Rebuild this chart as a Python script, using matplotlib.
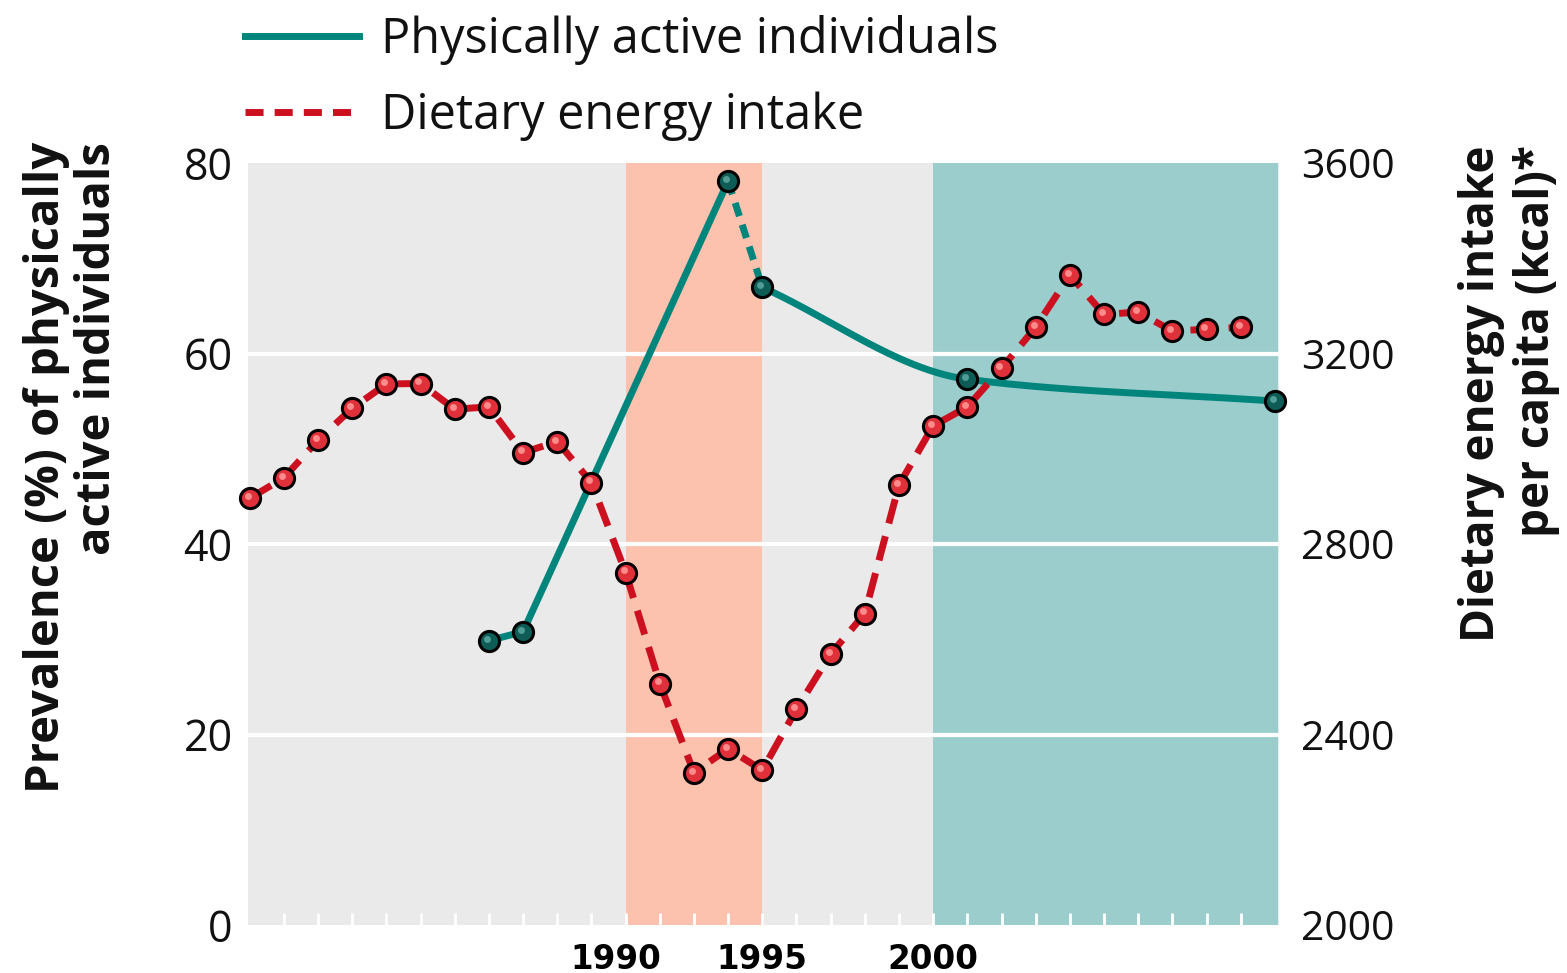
import numpy as np
import matplotlib
matplotlib.use("Agg")
import matplotlib.pyplot as plt
from matplotlib.lines import Line2D
from matplotlib.transforms import ScaledTranslation
from matplotlib import font_manager as fm

# ---------------- data ----------------
energy_years = list(range(1980, 2010))
energy_kcal = [2896, 2939, 3018, 3085, 3136, 3137, 3083, 3088, 2992, 3015,
               2929, 2740, 2507, 2320, 2370, 2325, 2453, 2569, 2654, 2924,
               3048, 3088, 3169, 3255, 3365, 3282, 3287, 3247, 3251, 3255]

active_years = [1987, 1988, 1994, 1995, 2001, 2010]
active_pct = [29.85, 30.8, 78.1, 66.95, 57.3, 55.0]

crisis_period = (1991, 1995)
recent_period = (2000, 2010.1)
xtick_years = [1990, 1995, 2000]
xtick_labels = ["1990", "1995", "2000"]
left_ticks = [0, 20, 40, 60, 80]
right_ticks = [2000, 2400, 2800, 3200, 3600]
legend_labels = ["Physically active individuals", "Dietary energy intake"]
left_label = "Prevalence (%) of physically\nactive individuals"
right_label = "Dietary energy intake\nper capita (kcal)*"

# ---------------- style ----------------
names = {f.name for f in fm.fontManager.ttflist}
COND = "Open Sans" if "Open Sans" in names else "DejaVu Sans"

TEAL = "#00857c"
TEAL_DARK = "#0e5c56"
RED = "#cc1020"
RED_FILL = "#e0303a"
GRAY_BG = "#eaeaea"
ORANGE = "#fcc2ae"
TEAL_BAND = "#9ccdcd"


def pchip(x, y, xs):
    x = np.asarray(x, float); y = np.asarray(y, float)
    h = np.diff(x); d = np.diff(y) / h
    n = len(x)
    m = np.zeros(n)
    for k in range(1, n - 1):
        if d[k - 1] * d[k] > 0:
            w1 = 2 * h[k] + h[k - 1]; w2 = h[k] + 2 * h[k - 1]
            m[k] = (w1 + w2) / (w1 / d[k - 1] + w2 / d[k])
    m[0] = d[0]; m[-1] = d[-1]
    out = np.empty_like(xs)
    for i, xv in enumerate(xs):
        k = min(max(np.searchsorted(x, xv) - 1, 0), n - 2)
        t = (xv - x[k]) / h[k]
        h00 = 2 * t**3 - 3 * t**2 + 1; h10 = t**3 - 2 * t**2 + t
        h01 = -2 * t**3 + 3 * t**2; h11 = t**3 - t**2
        out[i] = h00 * y[k] + h10 * h[k] * m[k] + h01 * y[k + 1] + h11 * h[k] * m[k + 1]
    return out


fig = plt.figure(figsize=(15.67, 9.73), dpi=100)
ax1 = fig.add_axes([248 / 1567, 1 - 925 / 973, (1279 - 248) / 1567, (925 - 163) / 973])
ax1.set_facecolor(GRAY_BG)
ax1.set_xlim(1979.95, 2010.12)
ax1.set_ylim(0, 80)

ax1.axvspan(*crisis_period, color=ORANGE, lw=0, zorder=0.5)
ax1.axvspan(*recent_period, color=TEAL_BAND, lw=0, zorder=0.5)
for v in left_ticks[1:-1]:
    ax1.axhline(v, color="white", lw=3, zorder=0.8)

# physically active line
ax1.plot(active_years[:3], active_pct[:3], color=TEAL, lw=5, solid_capstyle="round", zorder=2)
ax1.plot(active_years[2:4], active_pct[2:4], color=TEAL, lw=5, dashes=(2.0, 1.3), zorder=2)
xs = np.linspace(active_years[3], active_years[5], 200)
ax1.plot(xs, pchip(active_years[3:], active_pct[3:], xs), color=TEAL, lw=5, zorder=2)
ax1.plot(active_years, active_pct, ls="none", marker="o", ms=14.5, mfc=TEAL_DARK,
         mec="black", mew=2.2, zorder=3, clip_on=False)
hl = ax1.transData + ScaledTranslation(-1.5 / 72, 1.5 / 72, fig.dpi_scale_trans)
ax1.plot(active_years, active_pct, ls="none", marker="o", ms=5, mfc="#4f9d94",
         mec="none", zorder=3.1, transform=hl, clip_on=False)

ax2 = ax1.twinx()
ax2.set_ylim(2000, 3600)
ax2.plot(energy_years, energy_kcal, color=RED, lw=5, dashes=(3.6, 1.9), zorder=2)
ax2.plot(energy_years, energy_kcal, ls="none", marker="o", ms=14.5, mfc=RED_FILL,
         mec="black", mew=2.2, zorder=3, clip_on=False)
hl2 = ax2.transData + ScaledTranslation(-1.5 / 72, 1.5 / 72, fig.dpi_scale_trans)
ax2.plot(energy_years, energy_kcal, ls="none", marker="o", ms=5, mfc="#ff8a8a",
         mec="none", zorder=3.1, transform=hl2, clip_on=False)

for ax in (ax1, ax2):
    for s in ax.spines.values():
        s.set_visible(False)

# ticks
ax1.set_yticks(left_ticks)
ax1.set_yticklabels([str(v) for v in left_ticks], fontfamily=COND, fontsize=31,
                    color="#111111")
ax1.tick_params(axis="y", length=0, pad=11)
ax2.set_yticks(right_ticks)
ax2.set_yticklabels([str(v) for v in right_ticks], fontfamily=COND, fontsize=29.5,
                    color="#111111")
ax2.tick_params(axis="y", length=0, pad=16)

ax1.set_xticks(xtick_years)
ax1.set_xticklabels(xtick_labels, fontfamily="DejaVu Sans", fontweight="bold", fontsize=23.5)
ax1.set_xticks([y for y in range(1981, 2010)], minor=True)
ax1.tick_params(axis="x", which="both", direction="in", length=9, width=2,
                color="white", pad=13)
lab0 = ax1.get_xticklabels()[0]
lab0.set_transform(lab0.get_transform() + ScaledTranslation(0.24, 0, fig.dpi_scale_trans))

# axis labels
fig.text(72 / 1567, 1 - 142 / 973, left_label, rotation=90, ha="center", va="top",
         multialignment="right", fontfamily=COND, fontweight="bold", fontsize=34,
         linespacing=1.12, color="#111111")
fig.text(1509 / 1567, 1 - 145 / 973, right_label, rotation=90, ha="center", va="top",
         multialignment="right", fontfamily=COND, fontweight="bold", fontsize=33,
         linespacing=1.24, color="#111111")

# legend
handles = [Line2D([], [], color=TEAL, lw=5),
           Line2D([], [], color=RED, lw=5, dashes=(2.6, 1.6))]
fig.legend(handles, legend_labels, loc="upper left",
           bbox_to_anchor=(245 / 1567, 1 - 15 / 973), frameon=False,
           prop={"family": COND, "size": 35}, handlelength=2.35,
           handletextpad=0.45, labelspacing=0.55, borderpad=0, borderaxespad=0,
           labelcolor="#111111")

fig.savefig("out.png", dpi=100)
